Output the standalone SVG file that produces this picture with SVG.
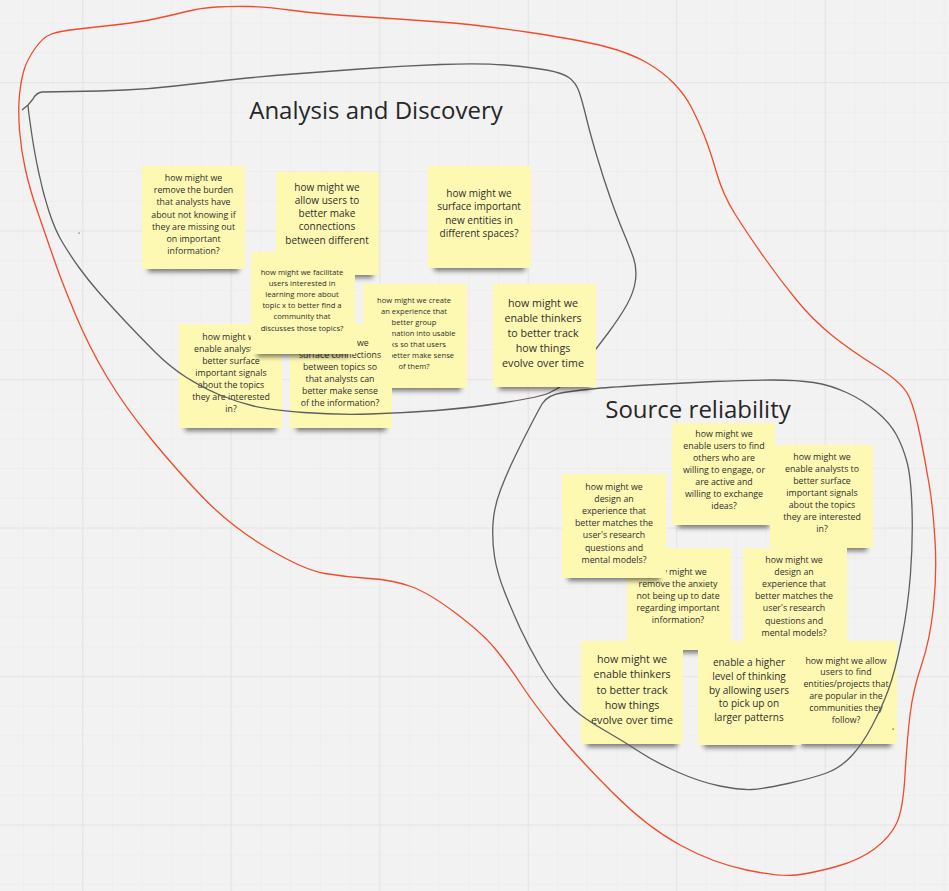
<svg xmlns="http://www.w3.org/2000/svg" width="949" height="891" viewBox="0 0 949 891">
<defs>
<style>
.s{fill:#fef9b2}
.sh{fill:#000;opacity:.5;filter:url(#blur)}
.t{font-family:"Open Sans","Liberation Sans",sans-serif;fill:#2e2e2e;text-anchor:middle}
.title{font-family:"Open Sans","Liberation Sans",sans-serif;font-size:24px;fill:#262626;text-anchor:middle}
.red{fill:none;stroke:#f24a2a;stroke-width:1.3;stroke-linejoin:round}
.gray{fill:none;stroke:#5e5e5e;stroke-width:1.3;stroke-linejoin:round}
</style>
<filter id="blur" x="-20%" y="-100%" width="140%" height="300%"><feGaussianBlur stdDeviation="2.5"/></filter>
<pattern id="gmin" width="29.7" height="29.7" patternUnits="userSpaceOnUse" x="22.8" y="22.6"><rect width="1" height="29.7" fill="#ededed"/><rect width="29.7" height="1" fill="#ededed"/></pattern>
<pattern id="gmaj" width="148.5" height="148.5" patternUnits="userSpaceOnUse" x="82.2" y="82"><rect width="1.2" height="148.5" fill="#e5e5e5"/><rect width="148.5" height="1.2" fill="#e5e5e5"/></pattern>
</defs>
<rect width="949" height="891" fill="#f2f2f2"/>
<rect width="949" height="891" fill="url(#gmin)"/>
<rect width="949" height="891" fill="url(#gmaj)"/>

<g id="titles">
<text class="title" x="376" y="119">Analysis and Discovery</text>
<text class="title" x="698" y="418">Source reliability</text>
</g>

<g id="sticky-1"><rect class="sh" x="148" y="261" width="91" height="11"/><rect class="s" x="142" y="166" width="103" height="103"/>
<text class="t" font-size="8.8" x="193.5" y="181"><tspan x="193.5">how might we</tspan><tspan x="193.5" dy="12.2">remove the burden</tspan><tspan x="193.5" dy="12.2">that analysts have</tspan><tspan x="193.5" dy="12.2">about not knowing if</tspan><tspan x="193.5" dy="12.2">they are missing out</tspan><tspan x="193.5" dy="12.2">on important</tspan><tspan x="193.5" dy="12.2">information?</tspan></text></g>

<g id="sticky-2"><rect class="sh" x="282" y="267" width="91" height="11"/><rect class="s" x="276" y="172" width="103" height="103"/>
<text class="t" font-size="10" x="327" y="190.5"><tspan x="327">how might we</tspan><tspan x="327" dy="13.3">allow users to</tspan><tspan x="327" dy="13.3">better make</tspan><tspan x="327" dy="13.3">connections</tspan><tspan x="327" dy="13.3">between different</tspan></text></g>

<g id="sticky-3"><rect class="sh" x="434" y="260" width="91" height="11"/><rect class="s" x="428" y="166" width="103" height="102"/>
<text class="t" font-size="10" x="479" y="196.5"><tspan x="479">how might we</tspan><tspan x="479" dy="13.6">surface important</tspan><tspan x="479" dy="13.6">new entities in</tspan><tspan x="479" dy="13.6">different spaces?</tspan></text></g>

<g id="sticky-6"><rect class="sh" x="369" y="380" width="92" height="11"/><rect class="s" x="363" y="284" width="104" height="104"/>
<text class="t" font-size="7.6" x="414" y="302.5"><tspan x="414">how might we create</tspan><tspan x="414" dy="11.1">an experience that</tspan><tspan x="414" dy="11.1">better group</tspan><tspan x="414" dy="11.1">information into usable</tspan><tspan x="414" dy="11.1">links so that users</tspan><tspan x="414" dy="11.1">can better make sense</tspan><tspan x="414" dy="11.1">of them?</tspan></text></g>

<g id="sticky-8"><rect class="sh" x="185" y="420" width="91" height="11"/><rect class="s" x="179" y="324" width="103" height="104"/>
<text class="t" font-size="8.8" x="231" y="339.6"><tspan x="231">how might we</tspan><tspan x="231" dy="12">enable analysts to</tspan><tspan x="231" dy="12">better surface</tspan><tspan x="231" dy="12">important signals</tspan><tspan x="231" dy="12">about the topics</tspan><tspan x="231" dy="12">they are interested</tspan><tspan x="231" dy="12">in?</tspan></text></g>

<g id="sticky-7"><rect class="sh" x="296" y="420" width="90" height="11"/><rect class="s" x="290" y="324" width="102" height="104"/>
<text class="t" font-size="8.8" x="340" y="345.6"><tspan x="340">how might we</tspan><tspan x="340" dy="12">surface connections</tspan><tspan x="340" dy="12">between topics so</tspan><tspan x="340" dy="12">that analysts can</tspan><tspan x="340" dy="12">better make sense</tspan><tspan x="340" dy="12">of the information?</tspan></text></g>

<g id="sticky-5"><rect class="sh" x="257" y="346" width="92" height="11"/><rect class="s" x="251" y="252" width="104" height="102"/>
<text class="t" font-size="7.7" x="302" y="274.5"><tspan x="302">how might we facilitate</tspan><tspan x="302" dy="11.2">users interested in</tspan><tspan x="302" dy="11.2">learning more about</tspan><tspan x="302" dy="11.2">topic x to better find a</tspan><tspan x="302" dy="11.2">community that</tspan><tspan x="302" dy="11.2">discusses those topics?</tspan></text></g>

<g id="sticky-9"><rect class="sh" x="678" y="517" width="91" height="11"/><rect class="s" x="672" y="423" width="103" height="102"/>
<text class="t" font-size="8.8" x="724" y="436.6"><tspan x="724">how might we</tspan><tspan x="724" dy="12.1">enable users to find</tspan><tspan x="724" dy="12.1">others who are</tspan><tspan x="724" dy="12.1">willing to engage, or</tspan><tspan x="724" dy="12.1">are active and</tspan><tspan x="724" dy="12.1">willing to exchange</tspan><tspan x="724" dy="12.1">ideas?</tspan></text></g>

<g id="sticky-10"><rect class="sh" x="776" y="540" width="91" height="11"/><rect class="s" x="770" y="445" width="103" height="103"/>
<text class="t" font-size="8.8" x="822" y="459.6"><tspan x="822">how might we</tspan><tspan x="822" dy="12">enable analysts to</tspan><tspan x="822" dy="12">better surface</tspan><tspan x="822" dy="12">important signals</tspan><tspan x="822" dy="12">about the topics</tspan><tspan x="822" dy="12">they are interested</tspan><tspan x="822" dy="12">in?</tspan></text></g>

<g id="sticky-12"><rect class="sh" x="633" y="642" width="92" height="11"/><rect class="s" x="627" y="548" width="104" height="102"/>
<text class="t" font-size="8.8" x="678" y="574.6"><tspan x="678">how might we</tspan><tspan x="678" dy="12">remove the anxiety</tspan><tspan x="678" dy="12">not being up to date</tspan><tspan x="678" dy="12">regarding important</tspan><tspan x="678" dy="12">information?</tspan></text></g>

<g id="sticky-11"><rect class="sh" x="568" y="570" width="92" height="11"/><rect class="s" x="562" y="474" width="104" height="104"/>
<text class="t" font-size="8.8" x="614" y="489.6"><tspan x="614">how might we</tspan><tspan x="614" dy="12.2">design an</tspan><tspan x="614" dy="12.2">experience that</tspan><tspan x="614" dy="12.2">better matches the</tspan><tspan x="614" dy="12.2">user's research</tspan><tspan x="614" dy="12.2">questions and</tspan><tspan x="614" dy="12.2">mental models?</tspan></text></g>

<g id="sticky-13"><rect class="sh" x="749" y="642" width="92" height="11"/><rect class="s" x="743" y="548" width="104" height="102"/>
<text class="t" font-size="8.8" x="794" y="562.6"><tspan x="794">how might we</tspan><tspan x="794" dy="12.2">design an</tspan><tspan x="794" dy="12.2">experience that</tspan><tspan x="794" dy="12.2">better matches the</tspan><tspan x="794" dy="12.2">user's research</tspan><tspan x="794" dy="12.2">questions and</tspan><tspan x="794" dy="12.2">mental models?</tspan></text></g>

<g id="sticky-16"><rect class="sh" x="801" y="736" width="90" height="11"/><rect class="s" x="795" y="641" width="102" height="103"/>
<text class="t" font-size="8.8" x="846" y="663.6"><tspan x="846">how might we allow</tspan><tspan x="846" dy="11.8">users to find</tspan><tspan x="846" dy="11.8">entities/projects that</tspan><tspan x="846" dy="11.8">are popular in the</tspan><tspan x="846" dy="11.8">communities they</tspan><tspan x="846" dy="11.8">follow?</tspan></text>
<rect x="892.5" y="728.5" width="1.2" height="1.2" fill="#444"/></g>

<g id="sticky-15"><rect class="sh" x="704" y="737" width="91" height="11"/><rect class="s" x="698" y="641" width="103" height="104"/>
<text class="t" font-size="10" x="749" y="666"><tspan x="749">enable a higher</tspan><tspan x="749" dy="13.8">level of thinking</tspan><tspan x="749" dy="13.8">by allowing users</tspan><tspan x="749" dy="13.8">to pick up on</tspan><tspan x="749" dy="13.8">larger patterns</tspan></text></g>

<g id="sticky-14"><rect class="sh" x="587" y="736" width="90" height="11"/><rect class="s" x="581" y="641" width="102" height="103"/>
<text class="t" font-size="10.7" x="632" y="663.2"><tspan x="632">how might we</tspan><tspan x="632" dy="15.2">enable thinkers</tspan><tspan x="632" dy="15.2">to better track</tspan><tspan x="632" dy="15.2">how things</tspan><tspan x="632" dy="15.2">evolve over time</tspan></text></g>

<g id="connectors">
<path id="outline-red" class="red" d="M216.5,7 Q233,6 250,6.5 Q267,7 293.5,10.5 Q320,14 360,16.5 Q400,19 440,22 Q480,25 530,32.5 Q580,40 605,46.5 Q630,53 646.5,62.5 Q663,72 674,83.5 Q685,95 691.5,107.5 Q698,120 704,135 Q710,150 716.5,172.5 Q723,195 735,214 Q747,233 763.5,256.5 Q780,280 796.5,300 Q813,320 831.5,335 Q850,350 876.5,366.5 Q903,383 909,396.5 Q915,410 920,435 Q925,460 929,483.5 Q933,507 935,540 Q937,573 933.5,606.5 Q930,640 921.5,665 Q913,690 910,715 Q907,740 905,775 Q903,810 896.5,823.5 Q890,837 875,848.5 Q860,860 836.5,866.5 Q813,873 796.5,875 Q780,877 746.5,870 Q713,863 680,845 Q647,827 613.5,793.5 Q580,760 558,733.5 Q536,707 521.5,685 Q507,663 494.5,648 Q482,633 455.5,613 Q429,593 411,586.5 Q393,580 369.5,578.5 Q346,577 325,573.5 Q304,570 268,548.5 Q232,527 205.5,500 Q179,473 152,440 Q125,407 107,377 Q89,347 75,313.5 Q61,280 53,256.5 Q45,233 37.5,211.5 Q30,190 25.5,170 Q21,150 19.5,130 Q18,110 19.5,95 Q21,80 24,70 Q27,60 35,48.5 Q43,37 51.5,34 Q60,31 78.5,29 Q97,27 118.5,24.5 Q140,22 156.5,18.5 Q173,15 186.5,11.5 Q200,8 216.5,7 Z"/>
<path id="outline-analysis" class="gray" d="M22,110 L28,105 L33,99 Q36,93 42,92 L71,91.5 Q100,91 125,90 Q150,89 175,86 Q200,83 233.5,79.5 Q267,76 293.5,74 Q320,72 360,69 Q400,66 440,64.5 Q480,63 505,65 Q530,67 546.5,70 Q563,73 569.5,78 Q576,83 579,91.5 Q582,100 586,116.5 Q590,133 596.5,155 Q603,177 610,197 Q617,217 623.5,232.5 Q630,248 633.5,258 Q637,268 635.5,280 Q634,292 627,304.5 Q620,317 608.5,332.5 Q597,348 586,361.5 Q575,375 566.5,382 Q558,389 549,393 Q540,397 505,402.5 Q470,408 436.5,410.5 Q403,413 370,414 Q337,415 303.5,412.5 Q270,410 253.5,406 Q237,402 220,395 Q203,388 186.5,377.5 Q170,367 155,352 Q140,337 125,321 Q110,305 99,292.5 Q88,280 79,267.5 Q70,255 62.5,242.5 Q55,230 49,211.5 Q43,193 38.5,171.5 Q34,150 31.5,132.5 Q29,115 28.5,110.5 L28,105"/>
<path id="outline-source" class="gray" d="M542,404 Q547,395 563.5,392.5 Q580,390 596.5,388.5 Q613,387 646.5,385 Q680,383 713.5,381.5 Q747,380 772,380 Q797,380 813.5,382.5 Q830,385 846.5,392.5 Q863,400 876.5,411.5 Q890,423 896.5,435 Q903,447 907,462 Q911,477 912,508.5 Q913,540 910.5,573.5 Q908,607 901.5,639.5 Q895,672 888.5,689.5 Q882,707 872,726 Q862,745 851,756.5 Q840,768 826.5,773 Q813,778 788,783.5 Q763,789 751.5,789.5 Q740,790 720,786 Q700,782 677.5,772 Q655,762 639,751.5 Q623,741 606.5,731.5 Q590,722 580,714.5 Q570,707 559,693.5 Q548,680 538,662.5 Q528,645 520.5,629 Q513,613 505,593 Q497,573 494.5,556.5 Q492,540 493,523.5 Q494,507 500.5,490 Q507,473 515,456.5 Q523,440 530,426.5 Q537,413 542,404 Z"/>
</g>

<g id="sticky-4"><rect class="sh" x="499" y="379" width="91" height="11"/><rect class="s" x="493" y="284" width="103" height="103"/>
<text class="t" font-size="10.7" x="543" y="306.5"><tspan x="543">how might we</tspan><tspan x="543" dy="15">enable thinkers</tspan><tspan x="543" dy="15">to better track</tspan><tspan x="543" dy="15">how things</tspan><tspan x="543" dy="15">evolve over time</tspan></text></g>

<rect id="dot" x="78.5" y="232.5" width="1.2" height="1.2" fill="#666"/>
</svg>
